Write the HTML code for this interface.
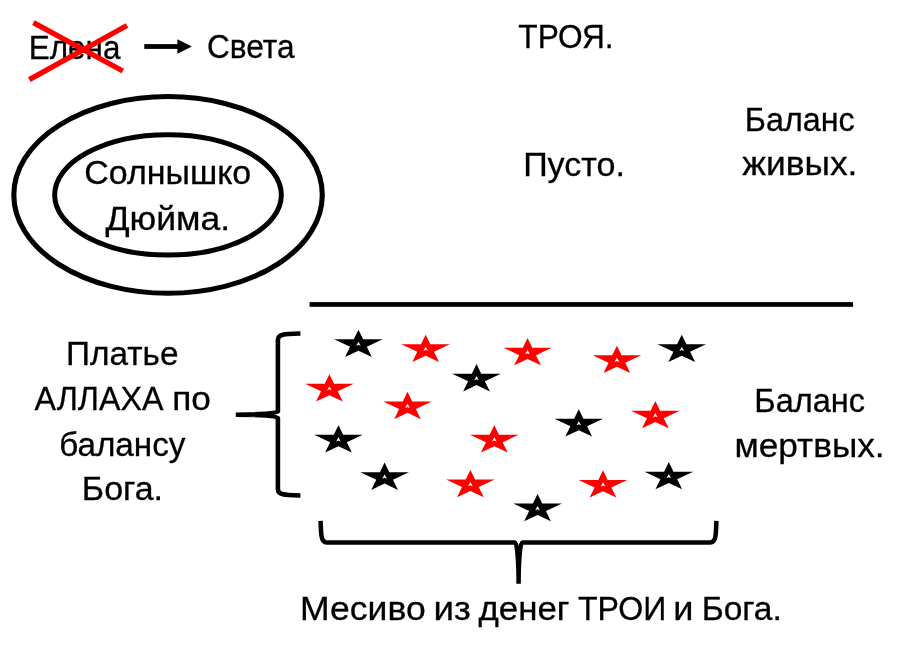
<!DOCTYPE html>
<html><head><meta charset="utf-8"><style>
html,body{margin:0;padding:0;background:#fff;}
body{width:907px;height:653px;overflow:hidden;position:relative;}
svg{position:absolute;left:0;top:0;}
.t{filter:grayscale(1);}
text{font-family:"Liberation Sans",sans-serif;font-size:33.5px;fill:#000;stroke:#000;stroke-width:0.3px;}
</style></head><body>
<svg width="907" height="653" viewBox="0 0 907 653">
<!-- ellipses -->
<ellipse cx="168.05" cy="194.9" rx="154.25" ry="98.4" fill="none" stroke="#000" stroke-width="5.1"/>
<ellipse cx="168.0" cy="194.9" rx="113.35" ry="60.2" fill="none" stroke="#000" stroke-width="5.0"/>
<!-- arrow -->
<rect x="144.3" y="44.1" width="34" height="4.8" fill="#000"/>
<polygon points="177.4,39.3 191.9,46.5 177.4,53.8" fill="#000"/>
<!-- horizontal line -->
<rect x="309.6" y="302.1" width="543.5" height="4.7" fill="#000"/>
<!-- left brace -->
<path d="M 300.4 333.5 C 284 333.9, 277.9 334, 277.9 340 L 277.9 411.7 A 42.1 3 0 0 1 235.8 414.7 A 42.1 3 0 0 1 277.9 417.7 L 277.9 489 C 277.9 495, 284 495.1, 300.4 495.5" fill="none" stroke="#000" stroke-width="4.6"/>
<!-- bottom brace -->
<path d="M 320.6 520.9 C 321 536, 321.3 542.4, 326.6 542.4 L 515.1 542.4 A 3.5 41.4 0 0 1 518.6 583.8 A 3.5 41.4 0 0 1 522.1 542.4 L 710.4 542.4 C 715.7 542.4, 716 536, 716.4 520.9" fill="none" stroke="#000" stroke-width="4.5"/>
<!-- stars -->
<polygon points="334.15,339.23 353.76,339.23 358.45,329.65 363.14,339.23 382.75,339.23 366.81,346.73 371.82,356.95 358.45,350.66 345.09,356.95 350.09,346.73" fill="#000"/><polygon points="358.45,341.66 360.75,345.89 358.45,344.80 356.15,345.89" fill="#fff"/><polygon points="401.35,344.23 420.96,344.23 425.65,334.65 430.34,344.23 449.95,344.23 434.01,351.73 439.01,361.95 425.65,355.66 412.28,361.95 417.29,351.73" fill="#f00"/><polygon points="425.65,346.66 427.95,350.89 425.65,349.80 423.35,350.89" fill="#fff"/><polygon points="503.25,347.63 522.86,347.63 527.55,338.05 532.24,347.63 551.85,347.63 535.91,355.13 540.91,365.35 527.55,359.06 514.18,365.35 519.19,355.13" fill="#f00"/><polygon points="527.55,350.06 529.85,354.29 527.55,353.20 525.25,354.29" fill="#fff"/><polygon points="592.60,355.33 612.21,355.33 616.90,345.75 621.59,355.33 641.20,355.33 625.26,362.83 630.27,373.05 616.90,366.76 603.54,373.05 608.54,362.83" fill="#f00"/><polygon points="616.90,357.76 619.20,361.99 616.90,360.90 614.60,361.99" fill="#fff"/><polygon points="657.45,344.33 677.06,344.33 681.75,334.75 686.44,344.33 706.05,344.33 690.11,351.83 695.12,362.05 681.75,355.76 668.38,362.05 673.39,351.83" fill="#000"/><polygon points="681.75,346.76 684.05,350.99 681.75,349.90 679.45,350.99" fill="#fff"/><polygon points="305.10,383.78 324.71,383.78 329.40,374.20 334.09,383.78 353.70,383.78 337.76,391.28 342.76,401.50 329.40,395.21 316.03,401.50 321.04,391.28" fill="#f00"/><polygon points="329.40,386.21 331.70,390.44 329.40,389.35 327.10,390.44" fill="#fff"/><polygon points="452.20,373.68 471.81,373.68 476.50,364.10 481.19,373.68 500.80,373.68 484.86,381.18 489.87,391.40 476.50,385.11 463.13,391.40 468.14,381.18" fill="#000"/><polygon points="476.50,376.11 478.80,380.34 476.50,379.25 474.20,380.34" fill="#fff"/><polygon points="383.20,401.43 402.81,401.43 407.50,391.85 412.19,401.43 431.80,401.43 415.86,408.93 420.87,419.15 407.50,412.86 394.13,419.15 399.14,408.93" fill="#f00"/><polygon points="407.50,403.86 409.80,408.09 407.50,407.00 405.20,408.09" fill="#fff"/><polygon points="554.45,418.73 574.06,418.73 578.75,409.15 583.44,418.73 603.05,418.73 587.11,426.23 592.12,436.45 578.75,430.16 565.38,436.45 570.39,426.23" fill="#000"/><polygon points="578.75,421.16 581.05,425.39 578.75,424.30 576.45,425.39" fill="#fff"/><polygon points="631.05,410.63 650.66,410.63 655.35,401.05 660.04,410.63 679.65,410.63 663.71,418.13 668.71,428.35 655.35,422.06 641.98,428.35 646.99,418.13" fill="#f00"/><polygon points="655.35,413.06 657.65,417.29 655.35,416.20 653.05,417.29" fill="#fff"/><polygon points="314.15,434.83 333.76,434.83 338.45,425.25 343.14,434.83 362.75,434.83 346.81,442.33 351.82,452.55 338.45,446.26 325.09,452.55 330.09,442.33" fill="#000"/><polygon points="338.45,437.26 340.75,441.49 338.45,440.40 336.15,441.49" fill="#fff"/><polygon points="470.00,434.83 489.61,434.83 494.30,425.25 498.99,434.83 518.60,434.83 502.66,442.33 507.66,452.55 494.30,446.26 480.93,452.55 485.94,442.33" fill="#f00"/><polygon points="494.30,437.26 496.60,441.49 494.30,440.40 492.00,441.49" fill="#fff"/><polygon points="360.30,472.18 379.91,472.18 384.60,462.60 389.29,472.18 408.90,472.18 392.96,479.68 397.97,489.90 384.60,483.61 371.24,489.90 376.24,479.68" fill="#000"/><polygon points="384.60,474.61 386.90,478.84 384.60,477.75 382.30,478.84" fill="#fff"/><polygon points="446.10,479.58 465.71,479.58 470.40,470.00 475.09,479.58 494.70,479.58 478.76,487.08 483.76,497.30 470.40,491.01 457.03,497.30 462.04,487.08" fill="#f00"/><polygon points="470.40,482.01 472.70,486.24 470.40,485.15 468.10,486.24" fill="#fff"/><polygon points="578.70,479.88 598.31,479.88 603.00,470.30 607.69,479.88 627.30,479.88 611.36,487.38 616.37,497.60 603.00,491.31 589.63,497.60 594.64,487.38" fill="#f00"/><polygon points="603.00,482.31 605.30,486.54 603.00,485.45 600.70,486.54" fill="#fff"/><polygon points="644.50,471.63 664.11,471.63 668.80,462.05 673.49,471.63 693.10,471.63 677.16,479.13 682.16,489.35 668.80,483.06 655.43,489.35 660.44,479.13" fill="#000"/><polygon points="668.80,474.06 671.10,478.29 668.80,477.20 666.50,478.29" fill="#fff"/><polygon points="513.25,503.58 532.86,503.58 537.55,494.00 542.24,503.58 561.85,503.58 545.91,511.08 550.91,521.30 537.55,515.01 524.18,521.30 529.19,511.08" fill="#000"/><polygon points="537.55,506.01 539.85,510.24 537.55,509.15 535.25,510.24" fill="#fff"/>
</svg>
<svg class="t" width="907" height="653" viewBox="0 0 907 653">
<text transform="translate(28.79 58.50) scale(0.9391 1)">Елена</text>
<text transform="translate(206.92 58.10) scale(0.9445 1)">Света</text>
<text transform="translate(518.31 47.80) scale(0.9451 1)">ТРОЯ.</text>
<text transform="translate(84.31 183.50) scale(1.0134 1)">Солнышко</text>
<text transform="translate(105.40 229.60) scale(1.0614 1)">Дюйма.</text>
<text transform="translate(523.14 175.50) scale(1.0163 1)">Пусто.</text>
<text transform="translate(744.78 130.80) scale(0.9639 1)">Баланс</text>
<text transform="translate(742.30 175.20) scale(1.0554 1)">живых.</text>
<text transform="translate(66.09 365.30) scale(0.9957 1)">Платье</text>
<text transform="translate(34.50 409.80) scale(0.9617 1)">АЛЛАХА</text>
<text transform="translate(172.19 409.80) scale(1.0534 1)">по</text>
<text transform="translate(59.14 455.80) scale(0.9932 1)">балансу</text>
<text transform="translate(81.84 499.90) scale(1.0149 1)">Бога.</text>
<text transform="translate(754.36 411.60) scale(0.9711 1)">Баланс</text>
<text transform="translate(734.40 457.10) scale(1.0522 1)">мертвых.</text>
<text transform="translate(299.92 620.00) scale(1.0624 1)">Месиво</text>
<text transform="translate(433.51 620.00) scale(1.0959 1)">из</text>
<text transform="translate(478.50 620.00) scale(1.0400 1)">денег</text>
<text transform="translate(578.00 620.00) scale(0.9577 1)">ТРОИ</text>
<text transform="translate(673.14 620.00) scale(1.0780 1)">и</text>
<text transform="translate(701.68 620.00) scale(1.0014 1)">Бога.</text>
</svg>
<svg width="907" height="653" viewBox="0 0 907 653">
<!-- red X -->
<line x1="33.4" y1="22.6" x2="122.8" y2="71" stroke="#f00" stroke-width="5.3"/>
<line x1="29.3" y1="79.6" x2="127" y2="25.5" stroke="#f00" stroke-width="5.3"/>
</svg>
</body></html>
